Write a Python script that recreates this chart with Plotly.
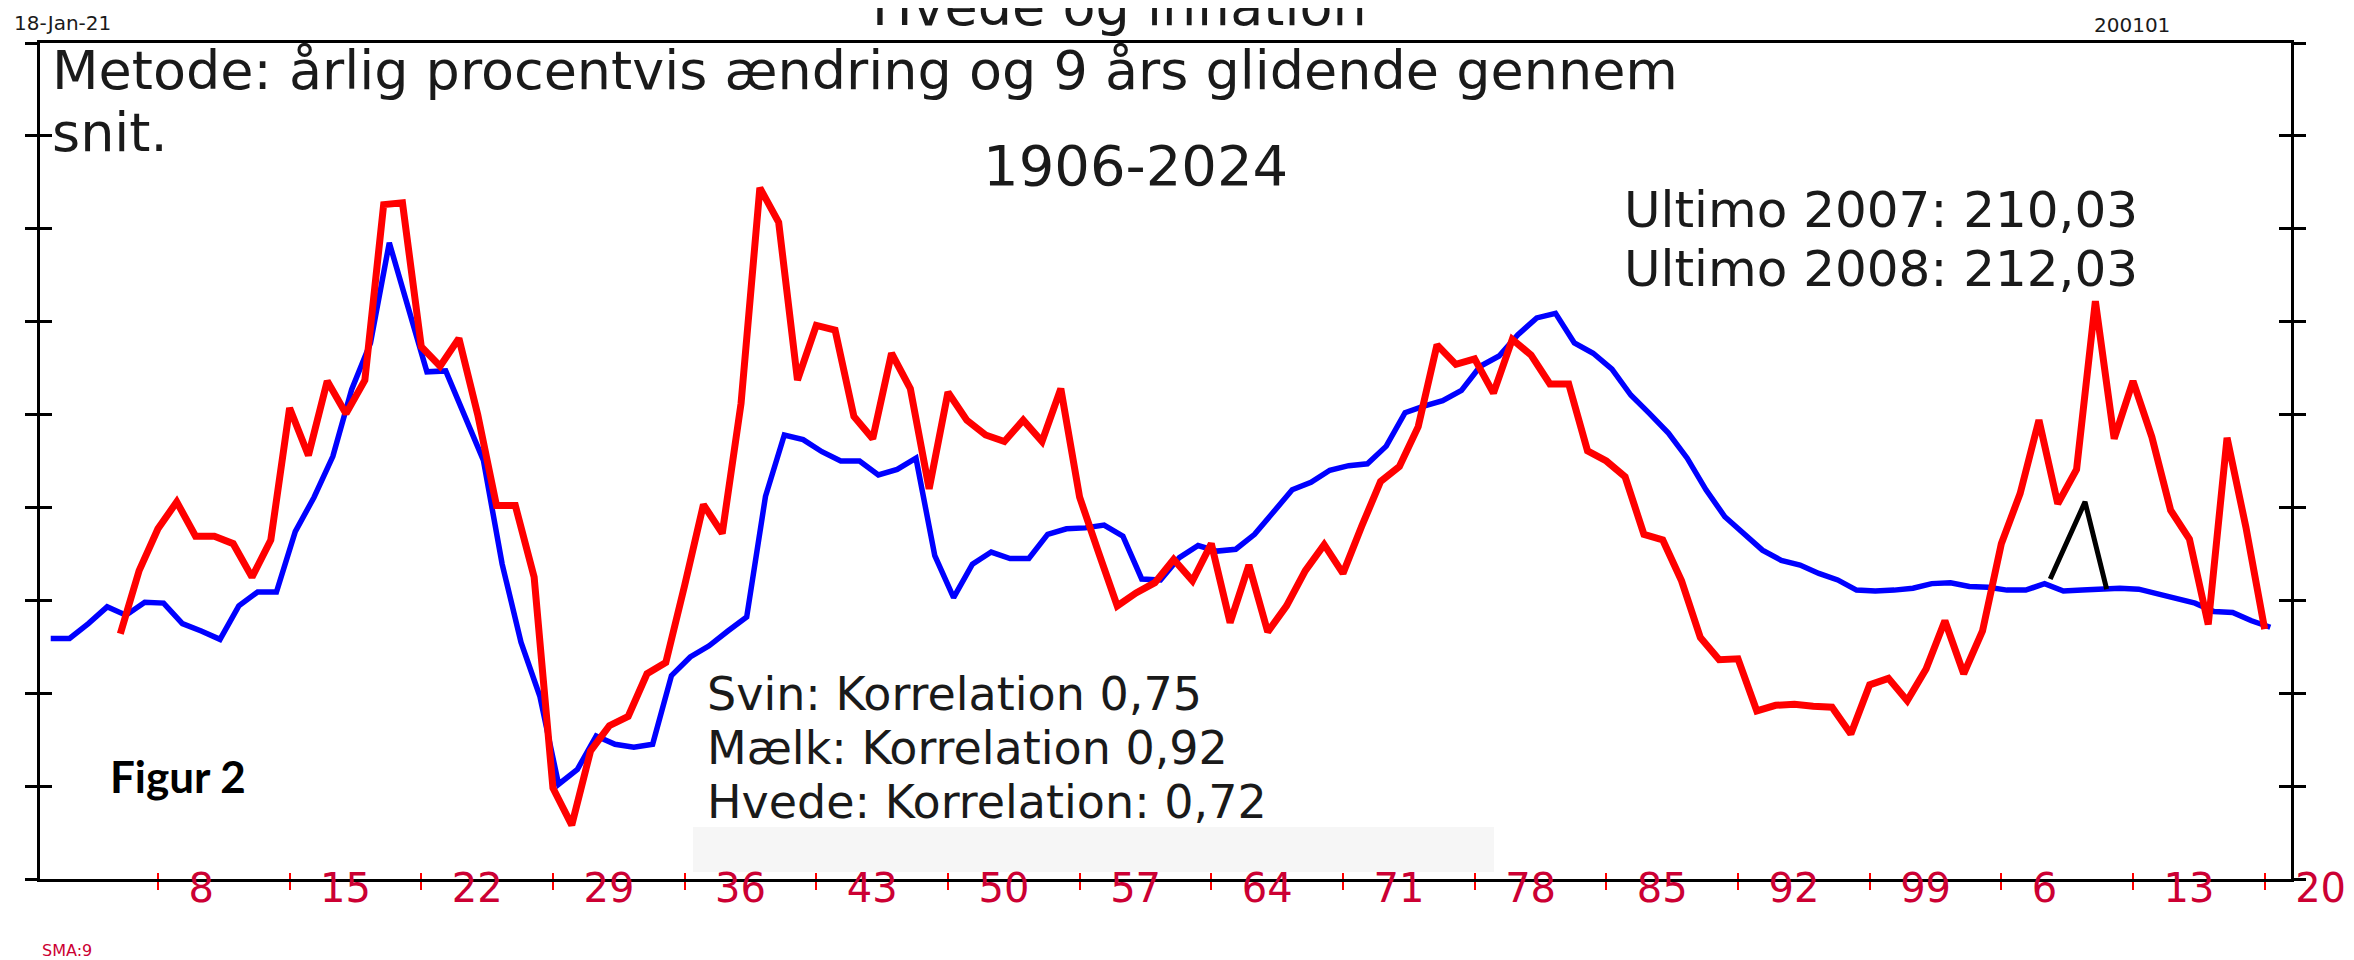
import plotly.graph_objects as go

# ---------------- data ----------------
red_years = list(range(1906, 2021))
hvede = [
    2.64, 3.32, 3.77, 4.06, 3.69, 3.69, 3.61, 3.25, 3.65, 5.07,   # 1906-1915
    4.56, 5.36, 5.01, 5.37, 7.26, 7.28, 5.73, 5.52, 5.82, 5.00,   # 1916-1925
    4.02, 4.02, 3.25, 0.98, 0.58, 1.38, 1.65, 1.75, 2.21, 2.33,   # 1926-1935
    3.16, 4.03, 3.72, 5.12, 7.44, 7.07, 5.37, 5.96, 5.91, 4.98,   # 1936-1945
    4.74, 5.66, 5.28, 4.20, 5.24, 4.94, 4.78, 4.71, 4.94, 4.71,   # 1946-1955
    5.28, 4.11, 3.52, 2.94, 3.08, 3.19, 3.44, 3.21, 3.61, 2.76,   # 1956-1965
    3.38, 2.66, 2.94, 3.32, 3.60, 3.29, 3.80, 4.28, 4.44, 4.87,   # 1966-1975
    5.75, 5.54, 5.60, 5.23, 5.81, 5.64, 5.33, 5.33, 4.61, 4.50,   # 1976-1985
    4.33, 3.71, 3.65, 3.21, 2.60, 2.36, 2.37, 1.81, 1.87, 1.88,   # 1986-1995
    1.86, 1.85, 1.56, 2.09, 2.16, 1.92, 2.26, 2.78, 2.21, 2.67,   # 1996-2005
    3.61, 4.15, 4.94, 4.04, 4.41, 6.22, 4.74, 5.36, 4.76, 3.97,   # 2006-2015
    3.66, 2.74, 4.75, 3.79, 2.69,                                 # 2016-2020
]

blue_years = list(range(1902, 2021))
inflation = [
    2.59, 2.59, 2.75, 2.93, 2.84, 2.98, 2.97, 2.75, 2.67, 2.58,   # 1902-1911
    2.94, 3.09, 3.09, 3.74, 4.11, 4.55, 5.27, 5.77, 6.85, 6.17,   # 1912-1921
    5.46, 5.47, 4.98, 4.51, 3.39, 2.55, 1.97, 1.02, 1.18, 1.54,   # 1922-1931
    1.45, 1.42, 1.45, 2.19, 2.39, 2.51, 2.67, 2.82, 4.12, 4.78,   # 1932-1941
    4.73, 4.60, 4.50, 4.50, 4.35, 4.41, 4.53, 3.48, 3.03, 3.39,   # 1942-1951
    3.52, 3.45, 3.45, 3.71, 3.77, 3.78, 3.81, 3.69, 3.23, 3.22,   # 1952-1961
    3.46, 3.59, 3.53, 3.55, 3.71, 3.94, 4.19, 4.27, 4.40, 4.45,   # 1962-1971
    4.47, 4.66, 5.02, 5.09, 5.15, 5.26, 5.52, 5.63, 5.86, 6.04,   # 1972-1981
    6.09, 5.77, 5.66, 5.49, 5.21, 5.01, 4.80, 4.53, 4.19, 3.90,   # 1982-1991
    3.72, 3.54, 3.43, 3.38, 3.29, 3.22, 3.11, 3.10, 3.11, 3.13,   # 1992-2001
    3.18, 3.19, 3.15, 3.14, 3.11, 3.11, 3.18, 3.10, 3.11, 3.12,   # 2002-2011
    3.13, 3.12, 3.07, 3.01, 2.97, 2.88, 2.87, 2.78, 2.71,         # 2012-2020
]

peak_years = [2008.6, 2010.45, 2011.6]
peak_vals = [3.23, 4.06, 3.12]

tick_years = list(range(1908, 2021, 7))
tick_labels = [str(y % 100) for y in tick_years]
y_ticks = list(range(0, 10))

# ---------------- styling / geometry ----------------
W, H = 2354, 960
L, R, T, B = 32, 2283, 35, 871
X_RANGE = [1901.73, 2021.40]
Y_RANGE = [0, 9]
BLUE_SHIFT = 0.3
TXT = "#1a1a1a"
BIG = "DejaVu Sans"


def px(x):
    return (x - L) / (R - L)


def py(y):
    return (B - y) / (B - T)


fig = go.Figure()
fig.add_trace(go.Scatter(
    x=[y + BLUE_SHIFT for y in blue_years], y=inflation, mode="lines",
    line=dict(color="#0000ff", width=5.5), name="Inflation", hoverinfo="skip"))
fig.add_trace(go.Scatter(
    x=red_years, y=hvede, mode="lines",
    line=dict(color="#ff0000", width=7), name="Hvede", hoverinfo="skip"))
fig.add_trace(go.Scatter(
    x=peak_years, y=peak_vals, mode="lines", xaxis="x2", yaxis="y2",
    line=dict(color="black", width=5), name="peak", hoverinfo="skip"))

fig.update_layout(
    width=W, height=H,
    margin=dict(l=L, r=W - R, t=T, b=H - B),
    paper_bgcolor="white", plot_bgcolor="white",
    showlegend=False,
    xaxis=dict(
        range=X_RANGE, tickmode="array", tickvals=tick_years, ticktext=tick_labels,
        ticks="outside", ticklen=8, tickwidth=2, tickcolor="#ff0000",
        showline=True, linecolor="black", linewidth=3, mirror=True,
        showgrid=False, zeroline=False,
        tickfont=dict(family=BIG, size=40, color="#cc0033"),
        ticklabelposition="outside right", ticklabelshift=28,
        ticklabelstandoff=-28,
    ),
    xaxis2=dict(
        overlaying="x", anchor="y2", range=X_RANGE, tickmode="array",
        tickvals=tick_years, ticks="inside", ticklen=6, tickwidth=2,
        tickcolor="#ff0000", showticklabels=False, showline=False,
        showgrid=False, zeroline=False,
    ),
    yaxis=dict(
        range=Y_RANGE, tickmode="array", tickvals=y_ticks, ticks="outside",
        ticklen=12, tickwidth=2.5, tickcolor="black", mirror="ticks",
        showline=True, linecolor="black", linewidth=3,
        showticklabels=False, showgrid=False, zeroline=False,
    ),
    yaxis2=dict(
        overlaying="y", anchor="x2", range=Y_RANGE, tickmode="array",
        tickvals=y_ticks, ticks="inside", ticklen=12, tickwidth=2.5,
        tickcolor="black", mirror="ticks", showline=True, linecolor="black",
        linewidth=3, showticklabels=False, showgrid=False, zeroline=False,
    ),
)

# light grey box under the correlation texts
fig.add_shape(type="rect", xref="paper", yref="paper",
              x0=px(685), x1=px(1486), y0=py(864), y1=py(819),
              fillcolor="#f6f6f6", line=dict(width=0), layer="below")


def note(text, x, y, size, xanchor="left", family=BIG, color=TXT):
    fig.add_annotation(text=text, xref="paper", yref="paper", x=px(x), y=py(y),
                       xanchor=xanchor, yanchor="middle", showarrow=False,
                       font=dict(family=family, size=size, color=color))


note("18-Jan-21", 4, 15, 20)
note("200101", 2084, 17, 20)
note("Hvede og inflation", 1111, -2, 54, xanchor="center")
note("Metode: årlig procentvis ændring og 9 års glidende gennem", 42, 62, 54)
note("snit.", 42, 125, 54)
note("1906-2024", 1127, 157, 56, xanchor="center")
note("Ultimo 2007: 210,03", 1873, 202, 50, xanchor="center")
note("Ultimo 2008: 212,03", 1873, 261, 50, xanchor="center")
note("Svin: Korrelation 0,75", 697, 686, 46)
note("Mælk: Korrelation 0,92", 697, 740, 46)
note("Hvede: Korrelation: 0,72", 697, 794, 46)
note("<b>Figur 2</b>", 100, 768, 44, family="Lato", color="black")
note("SMA:9", 32, 942, 16, color="#cc0033")

fig.write_html("out.html")
